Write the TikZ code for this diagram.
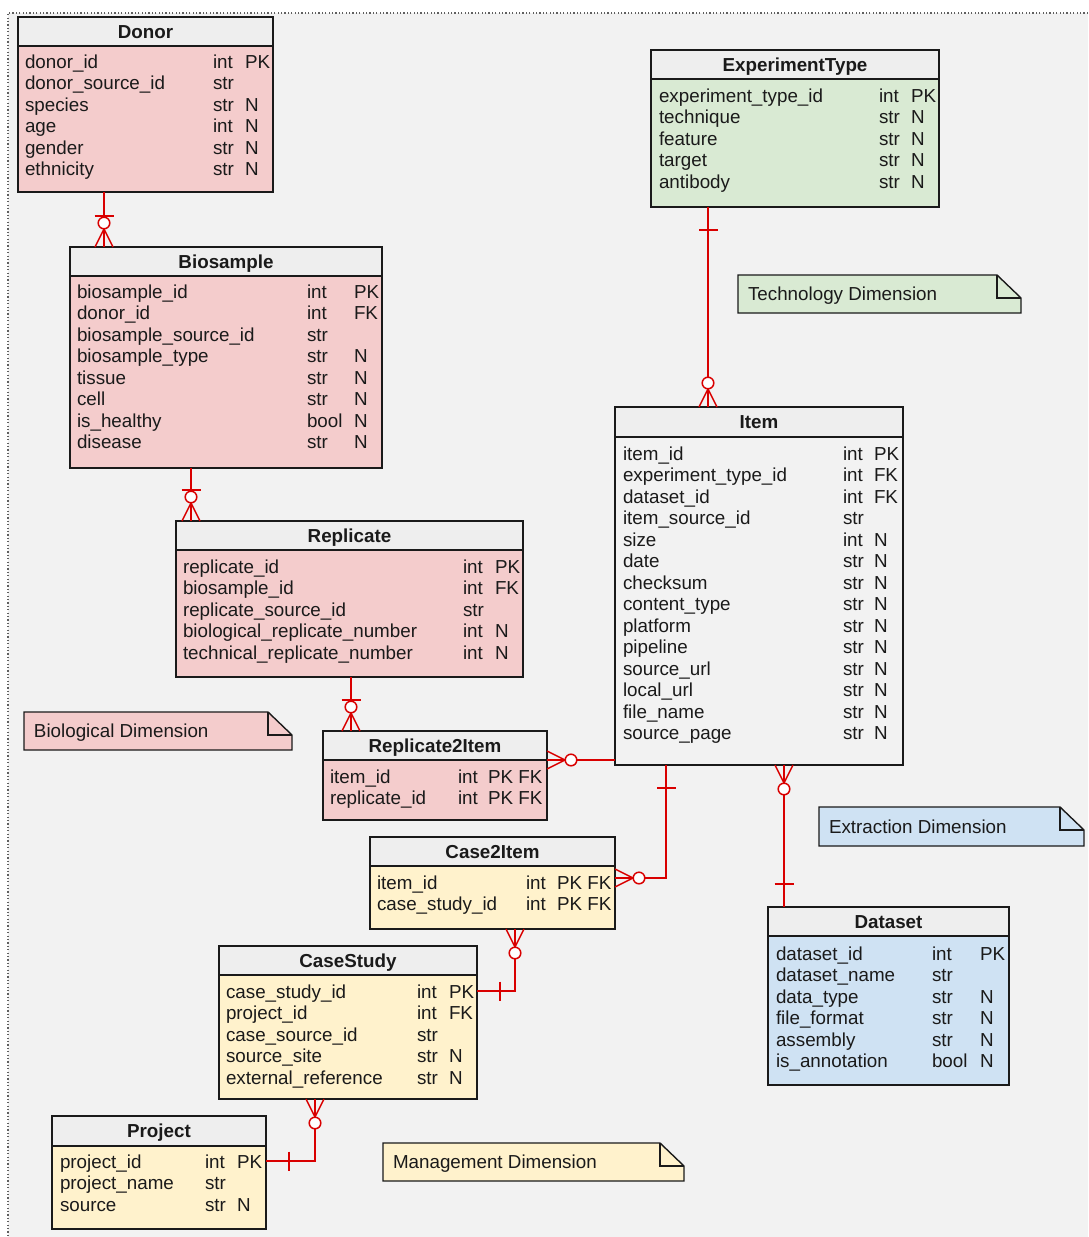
\documentclass[tikz,border=0pt]{standalone}
\usepackage{fontspec}
\setmainfont{Liberation Sans}
\usetikzlibrary{calc}

\definecolor{bg}{HTML}{F2F2F2}
\definecolor{headgray}{HTML}{EEEEEE}
\definecolor{bio}{HTML}{F4CCCC}
\definecolor{tech}{HTML}{D9EAD3}
\definecolor{extr}{HTML}{CFE2F3}
\definecolor{mgmt}{HTML}{FFF2CC}
\definecolor{relred}{HTML}{D90000}
\definecolor{ink}{HTML}{1A1A1A}

\tikzset{
  boxborder/.style={draw=ink, line width=1.6pt},
  cell/.style={inner sep=0pt, outer sep=0pt, anchor=base west,
    font=\fontsize{18.8}{21.5}\selectfont, text=ink},
  ttl/.style={inner sep=0pt, outer sep=0pt, anchor=base,
    font=\fontsize{18.8}{21.5}\selectfont\bfseries, text=ink},
  rel/.style={draw=relred, line width=1.5pt},
  % crow's foot with a ring (zero or many)
  pics/zeromany/.style={code={
    \draw[rel] (0,-9) -- (18,0) -- (0,9);
    \draw[rel] (0,0) -- (18,0);
    \draw[rel, fill=white] (24,0) circle[radius=5.8pt];
  }},
  % crow's foot with a ring and a bar
  pics/barzeromany/.style={code={
    \draw[rel] (0,-9) -- (18,0) -- (0,9);
    \draw[rel] (0,0) -- (18,0);
    \draw[rel] (31,-9.5) -- (31,9.5);
    \draw[rel, fill=white] (24,0) circle[radius=5.8pt];
  }},
  % single bar (exactly one)
  pics/onebar/.style={code={
    \draw[rel] (23,-9.5) -- (23,9.5);
  }},
}

% entity box: name, x1, y1, x2, y2, header bottom, title, body colour
\newcommand{\erentity}[8]{%
  \node[fill=#8, inner sep=0pt, outer sep=0pt, anchor=north west,
        minimum width={#4pt-#2pt}, minimum height={#5pt-#3pt}] (#1) at (#2,#3) {};
  \fill[headgray] (#1.north west) rectangle (#4,#6);
  \draw[boxborder] (#2,#6) -- (#4,#6);
  \draw[boxborder] (#1.north west) rectangle (#1.south east);
  \node[ttl] (#1-title) at ({(#2+#4)/2},{(#3+#6)/2+6.5}) {#7};
}

% attribute rows: entity name, x name, x type, x key, first row y, list
\newcommand{\erfields}[6]{%
  \foreach \fname/\ftype/\fkey [count=\i from 0] in {#6} {
    \node[cell] (#1-n\i) at (#2,{#5+21.5*\i+6}) {\fname};
    \node[cell] (#1-t\i) at (#3,{#5+21.5*\i+6}) {\ftype};
    \node[cell] (#1-k\i) at (#4,{#5+21.5*\i+6}) {\fkey};
  }}

% folded note: name, x1, y1, x2, y2, fill, text
\newcommand{\ernote}[7]{%
  \draw[boxborder, line width=1.4pt, fill=#6] (#2,#3) -- ({#4-24},#3) -- (#4,{#3+23})
     -- (#4,#5) -- (#2,#5) -- cycle;
  \draw[boxborder, line width=1.4pt] ({#4-24},#3) -- ({#4-24},{#3+23}) -- (#4,{#3+23});
  \node[cell] (#1) at ({#2+10},{(#3+#5)/2+6.5}) {#7};
}

\begin{document}
\begin{tikzpicture}[x=1pt, y=-1pt]
  \useasboundingbox (0,0) rectangle (1088,1237);
  \fill[white] (0,0) rectangle (1088,1237);
  \fill[bg] (8,13) rectangle (1088,1237);
  \draw[ink!70, line width=1.2pt, dash pattern=on 1.2pt off 2.2pt] (1088,13) -- (8,13) -- (8,1237);

  % ---- biological dimension ----
  \erentity{donor}{18}{17}{273}{192}{46}{Donor}{bio}
  \erfields{donor}{25}{213}{245}{62}{
    donor\_id/int/PK, donor\_source\_id/str/{}, species/str/N,
    age/int/N, gender/str/N, ethnicity/str/N}

  \erentity{biosample}{70}{247}{382}{468}{276}{Biosample}{bio}
  \erfields{biosample}{77}{307}{354}{292}{
    biosample\_id/int/PK, donor\_id/int/FK, biosample\_source\_id/str/{},
    biosample\_type/str/N, tissue/str/N, cell/str/N, is\_healthy/bool/N, disease/str/N}

  \erentity{replicate}{176}{521}{523}{677}{550}{Replicate}{bio}
  \erfields{replicate}{183}{463}{495}{567}{
    replicate\_id/int/PK, biosample\_id/int/FK, replicate\_source\_id/str/{},
    biological\_replicate\_number/int/N, technical\_replicate\_number/int/N}

  \erentity{r2item}{323}{731}{547}{820}{760}{Replicate2Item}{bio}
  \erfields{r2item}{330}{458}{488}{777}{
    item\_id/int/PK FK, replicate\_id/int/PK FK}

  % ---- management dimension ----
  \erentity{c2item}{370}{837}{615}{929}{866}{Case2Item}{mgmt}
  \erfields{c2item}{377}{526}{557}{883}{
    item\_id/int/PK FK, case\_study\_id/int/PK FK}

  \erentity{casestudy}{219}{946}{477}{1099}{975}{CaseStudy}{mgmt}
  \erfields{casestudy}{226}{417}{449}{992}{
    case\_study\_id/int/PK, project\_id/int/FK, case\_source\_id/str/{},
    source\_site/str/N, external\_reference/str/N}

  \erentity{project}{52}{1116}{266}{1229}{1146}{Project}{mgmt}
  \erfields{project}{60}{205}{237}{1162}{
    project\_id/int/PK, project\_name/str/{}, source/str/N}

  % ---- technology dimension ----
  \erentity{exptype}{651}{50}{939}{207}{79}{ExperimentType}{tech}
  \erfields{exptype}{659}{879}{911}{96}{
    experiment\_type\_id/int/PK, technique/str/N, feature/str/N,
    target/str/N, antibody/str/N}

  % ---- extraction dimension ----
  \erentity{item}{615}{407}{903}{765}{437}{Item}{bg}
  \erfields{item}{623}{843}{874}{454}{
    item\_id/int/PK, experiment\_type\_id/int/FK, dataset\_id/int/FK,
    item\_source\_id/str/{}, size/int/N, date/str/N, checksum/str/N,
    content\_type/str/N, platform/str/N, pipeline/str/N, source\_url/str/N,
    local\_url/str/N, file\_name/str/N, source\_page/str/N}

  \erentity{dataset}{768}{907}{1009}{1085}{936}{Dataset}{extr}
  \erfields{dataset}{776}{932}{980}{954}{
    dataset\_id/int/PK, dataset\_name/str/{}, data\_type/str/N,
    file\_format/str/N, assembly/str/N, is\_annotation/bool/N}

  % ---- notes ----
  \ernote{technote}{738}{275}{1021}{313}{tech}{Technology Dimension}
  \ernote{bionote}{24}{712}{292}{750}{bio}{Biological Dimension}
  \ernote{extrnote}{819}{807}{1084}{846}{extr}{Extraction Dimension}
  \ernote{mgmtnote}{383}{1143}{684}{1181}{mgmt}{Management Dimension}

  % ---- relationship guides ----
  \coordinate (X104) at (104,0);
  \coordinate (X191) at (191,0);
  \coordinate (X351) at (351,0);
  \coordinate (X708) at (708,0);
  \coordinate (X666) at (666,0);
  \coordinate (X784) at (784,0);
  \coordinate (X515) at (515,0);
  \coordinate (X315) at (315,0);
  \coordinate (Y760) at (0,760);
  \coordinate (Y878) at (0,878);
  \coordinate (Y991) at (0,991);
  \coordinate (Y1161) at (0,1161);

  % ---- relationships ----
  \draw[rel] (donor.south -| X104) -- (biosample.north -| X104);
  \pic[rotate=90] at (biosample.north -| X104) {barzeromany};

  \draw[rel] (biosample.south -| X191) -- (replicate.north -| X191);
  \pic[rotate=90] at (replicate.north -| X191) {barzeromany};

  \draw[rel] (replicate.south -| X351) -- (r2item.north -| X351);
  \pic[rotate=90] at (r2item.north -| X351) {barzeromany};

  \draw[rel] (exptype.south -| X708) -- (item.north -| X708);
  \pic[rotate=-90] at (exptype.south -| X708) {onebar};
  \pic[rotate=90] at (item.north -| X708) {zeromany};

  \draw[rel] (item.west |- Y760) -- (r2item.east |- Y760);
  \pic at (r2item.east |- Y760) {zeromany};

  \draw[rel] (item.south -| X666) |- (c2item.east |- Y878);
  \pic[rotate=-90] at (item.south -| X666) {onebar};
  \pic at (c2item.east |- Y878) {zeromany};

  \draw[rel] (item.south -| X784) -- (dataset.north -| X784);
  \pic[rotate=-90] at (item.south -| X784) {zeromany};
  \pic[rotate=90] at (dataset.north -| X784) {onebar};

  \draw[rel] (c2item.south -| X515) |- (casestudy.east |- Y991);
  \pic[rotate=-90] at (c2item.south -| X515) {zeromany};
  \pic at (casestudy.east |- Y991) {onebar};

  \draw[rel] (casestudy.south -| X315) |- (project.east |- Y1161);
  \pic[rotate=-90] at (casestudy.south -| X315) {zeromany};
  \pic at (project.east |- Y1161) {onebar};
\end{tikzpicture}
\end{document}
